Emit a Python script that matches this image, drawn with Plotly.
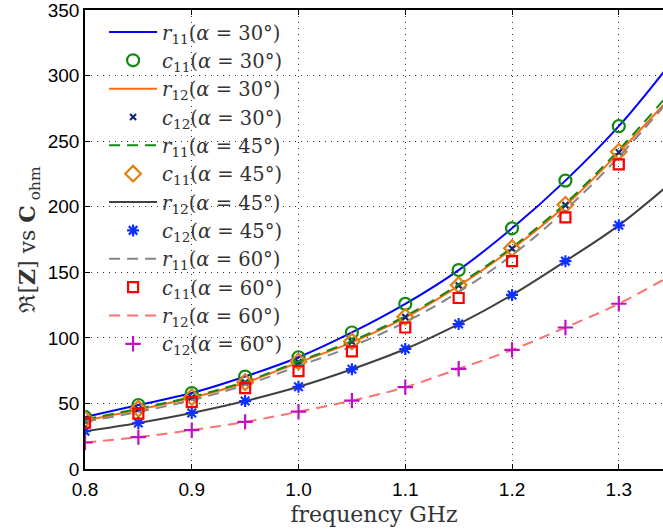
import plotly.graph_objects as go

# frequency points (GHz)
freq_markers = [0.80, 0.85, 0.90, 0.95, 1.00, 1.05, 1.10, 1.15, 1.20, 1.25, 1.30]
freq_lines = [0.80, 0.85, 0.90, 0.95, 1.00, 1.05, 1.10, 1.15, 1.20, 1.25, 1.30, 1.35]

r11_30 = [39.7, 48.8, 57.9, 70.5, 85.2, 104.1, 125.9, 151.7, 183.5, 219.9, 261.4, 311.0]
c11_30 = [39.7, 48.8, 57.9, 70.5, 85.2, 104.1, 125.9, 151.7, 183.5, 219.9, 261.4]
r12_30 = [37.0, 45.2, 54.3, 65.8, 81.2, 96.6, 115.4, 139.6, 167.8, 200.8, 241.2, 285.0]
c12_30 = [37.2, 45.5, 54.5, 66.0, 81.5, 97.0, 115.8, 140.0, 168.2, 201.2, 241.6]
r11_45 = [37.8, 46.0, 55.0, 66.6, 82.0, 97.6, 116.5, 140.8, 169.0, 202.5, 243.2, 289.0]
c11_45 = [38.0, 46.0, 54.8, 66.2, 81.9, 97.3, 116.0, 140.3, 168.4, 201.5, 241.9]
r12_45 = [28.8, 35.1, 42.7, 51.8, 62.7, 76.1, 91.5, 110.5, 132.7, 158.5, 185.8, 219.0]
c12_45 = [28.8, 35.1, 42.7, 51.8, 62.7, 76.1, 91.5, 110.5, 132.7, 158.5, 185.8]
r11_60 = [36.0, 43.5, 52.5, 64.0, 78.5, 93.5, 112.0, 135.0, 163.0, 197.5, 238.0, 284.0]
c11_60 = [35.4, 42.2, 51.0, 61.7, 74.6, 89.7, 107.9, 130.4, 158.5, 191.9, 232.3]
r12_60 = [20.2, 24.3, 29.6, 35.9, 43.7, 52.1, 62.4, 76.4, 90.8, 107.9, 126.0, 148.0]
c12_60 = [20.2, 24.3, 29.6, 35.9, 43.7, 52.1, 62.4, 76.4, 90.8, 107.9, 126.0]

x_ticks = [0.8, 0.9, 1.0, 1.1, 1.2, 1.3]
x_tick_labels = ["0.8", "0.9", "1.0", "1.1", "1.2", "1.3"]
y_ticks = [0, 50, 100, 150, 200, 250, 300, 350]


def lab(sym, idx, ang):
    return f"<i>{sym}</i><sub>{idx}</sub>(<i>α</i> = {ang}°)"


fig = go.Figure()


def add_line(y, name, color, dash="solid"):
    fig.add_trace(go.Scatter(x=freq_lines, y=y, mode="lines", name=name,
                             line=dict(color=color, width=2, dash=dash, shape="spline")))


def add_markers(y, name, color, symbol, size, lw=2):
    fig.add_trace(go.Scatter(x=freq_markers, y=y, mode="markers", name=name,
                             marker=dict(symbol=symbol, size=size, color=color,
                                         line=dict(color=color, width=lw))))


add_line(r11_30, lab("r", "11", 30), "#0000ff")
add_markers(c11_30, lab("c", "11", 30), "#108a10", "circle-open", 12, 2.2)
add_line(r12_30, lab("r", "12", 30), "#ff6a10")
add_markers(c12_30, lab("c", "12", 30), "#14287a", "x-thin-open", 6, 2.2)
add_line(r11_45, lab("r", "11", 45), "#108a10", "11px,7px")
add_markers(c11_45, lab("c", "11", 45), "#e08010", "diamond-open", 12, 2.2)
add_line(r12_45, lab("r", "12", 45), "#404040")
add_markers(c12_45, lab("c", "12", 45), "#1030ff", "asterisk-open", 10, 2.2)
add_line(r11_60, lab("r", "11", 60), "#858585", "11px,7px")
add_markers(c11_60, lab("c", "11", 60), "#ff0000", "square-open", 10, 2.2)
add_line(r12_60, lab("r", "12", 60), "#ff7070", "11px,7px")
add_markers(c12_60, lab("c", "12", 60), "#c010c0", "cross-thin-open", 11, 2.2)

tickfont = dict(family="Liberation Sans", size=19, color="black")
serif = "DejaVu Serif"

fig.update_layout(
    width=663, height=532,
    margin=dict(l=85, r=0, t=8, b=63),
    paper_bgcolor="white", plot_bgcolor="white",
    showlegend=True,
    legend=dict(x=0.033, y=0.994, xanchor="left", yanchor="top",
                bgcolor="rgba(0,0,0,0)", borderwidth=0,
                font=dict(family=serif, size=19.5, color="#333333"),
                itemwidth=48, tracegroupgap=0),
    xaxis=dict(range=[0.8, 1.3414], tickvals=x_ticks, ticktext=x_tick_labels,
               tickfont=tickfont, ticks="inside", ticklen=5, tickcolor="black",
               showline=True, linecolor="black", linewidth=1.5, mirror="allticks",
               showgrid=True, gridcolor="#333333", griddash="1px,5px", gridwidth=1,
               zeroline=False, ticklabeloverflow="allow", ticklabelstandoff=2,
               title=dict(text="frequency GHz", font=dict(family=serif, size=22, color="#333333"),
                          standoff=8)),
    yaxis=dict(range=[0, 350], tickvals=y_ticks, tickfont=tickfont,
               ticks="inside", ticklen=5, tickcolor="black",
               showline=True, linecolor="black", linewidth=1.5, mirror=False,
               showgrid=True, gridcolor="#333333", griddash="1px,5px", gridwidth=1,
               zeroline=False, ticklabeloverflow="allow",
               title=dict(text="ℜ[<b>Z</b>] vs <b>C</b><sub> ohm</sub>",
                          font=dict(family=serif, size=22, color="#333333"), standoff=6)),
)

fig.write_html("out.html")
